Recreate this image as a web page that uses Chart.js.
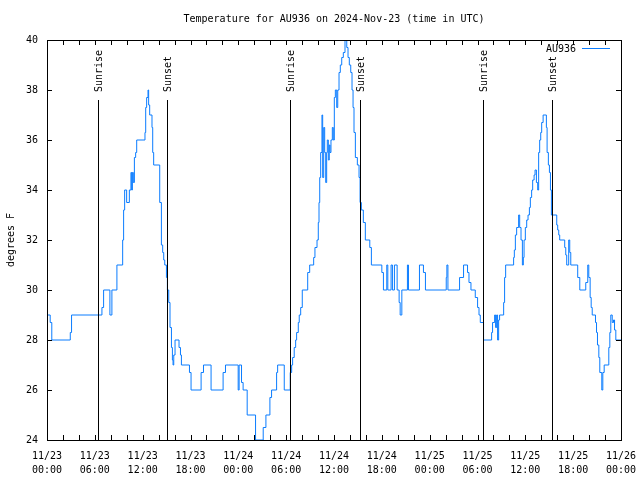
<!DOCTYPE html>
<html>
<head>
<meta charset="utf-8">
<script src="https://cdn.jsdelivr.net/npm/chart.js@4/dist/chart.umd.min.js"></script>
<style>
  html, body { margin: 0; padding: 0; background: #fff; }
  #wrap { width: 640px; height: 480px; }
</style>
</head>
<body>
<div id="wrap"><canvas id="chart" width="640" height="480"></canvas></div>
<script>
// hours since 2024-11-23 00:00 UTC where the reading changes, and the reading (deg F)
const hours = [
  0, 0.40, 0.60, 2.92, 3.08, 6.89, 7.10, 7.89, 8.14, 8.77,
  9.49, 9.61, 9.74, 9.99, 10.33, 10.53, 10.62, 10.71, 10.83, 10.96,
  11.12, 11.25, 12.29, 12.38, 12.50, 12.67, 12.75, 12.88, 13.17, 13.26,
  13.38, 14.14, 14.35, 14.51, 14.64, 14.77, 14.98, 15.10, 15.27, 15.43,
  15.61, 15.73, 15.81, 15.90, 16.06, 16.56, 16.74, 16.86, 17.87, 18.07,
  19.33, 19.63, 20.58, 22.09, 22.39, 23.98, 24.10, 24.40, 24.60, 25.11,
  26.16, 27.12, 27.46, 27.96, 28.17, 28.80, 28.93, 29.76, 30.51, 30.69,
  30.81, 31.01, 31.19, 31.31, 31.52, 31.64, 31.82, 32.02, 32.70, 32.95,
  33.45, 33.61, 33.87, 34.03, 34.12, 34.21, 34.33, 34.49, 34.58, 34.71,
  34.83, 34.96, 35.08, 35.16, 35.29, 35.41, 35.50, 35.62, 35.79, 35.91,
  36.04, 36.17, 36.34, 36.47, 36.63, 36.79, 36.97, 37.17, 37.38, 37.60,
  37.76, 37.92, 38.10, 38.26, 38.39, 38.51, 38.68, 38.93, 39.14, 39.27,
  39.43, 39.68, 39.93, 40.49, 40.69, 42.00, 42.20, 42.62, 42.75, 43.16,
  43.33, 43.58, 43.92, 44.17, 44.30, 44.51, 45.21, 45.34, 46.72, 47.22,
  47.47, 50.08, 50.16, 50.29, 51.75, 52.25, 52.75, 52.93, 53.18, 53.72,
  54.01, 54.19, 54.35, 54.76, 55.77, 55.89, 56.15, 56.27, 56.40, 56.52,
  56.65, 56.77, 57.28, 57.40, 57.53, 58.53, 58.62, 58.75, 58.91, 59.16,
  59.29, 59.46, 59.63, 59.75, 59.84, 60.00, 60.17, 60.34, 60.51, 60.63,
  60.79, 60.92, 61.10, 61.22, 61.39, 61.55, 61.67, 61.80, 61.93, 62.05,
  62.23, 62.64, 62.73, 62.89, 63.02, 63.15, 63.27, 63.94, 64.06, 64.19,
  64.31, 64.94, 65.07, 65.19, 65.44, 65.57, 65.70, 66.57, 66.83, 67.58,
  67.83, 67.96, 68.13, 68.26, 68.39, 68.80, 68.93, 69.05, 69.22, 69.34,
  69.59, 69.72, 69.89, 70.47, 70.60, 70.72, 70.90, 71.06, 71.19, 71.35,
  72
];
const temps = [
  29, 28.7, 28, 28.3, 29, 29.3, 30, 29, 30, 31,
  32, 33.2, 34, 33.5, 34, 34.7, 34, 34.7, 34.3, 35.3,
  35.5, 36, 36.3, 37.3, 37.7, 38, 37.4, 37, 36.5, 35.5,
  35, 33.5, 31.8, 31.5, 31.2, 31, 30.5, 30, 29.5, 28.5,
  27.7, 27.2, 27, 27.4, 28, 27.7, 27.4, 27, 26.7, 26,
  26.7, 27, 26, 26.7, 27, 26, 27, 26.3, 26, 25,
  24, 24.5, 25, 25.7, 26, 26.7, 27, 26, 26.7, 27,
  27.3, 27.7, 28, 28.3, 28.7, 29, 29.3, 30, 30.7, 31,
  31.3, 31.7, 32, 32.7, 33.5, 34.5, 35.5, 37, 34.5, 36.5,
  35.5, 34.3, 35.5, 36, 35.2, 35.8, 35.5, 36, 36.5, 36,
  37.7, 38, 37.3, 38, 38.7, 39, 39.3, 39.5, 40, 39.7,
  39.3, 39, 38.7, 38, 37.3, 36.3, 35.3, 35, 34.5, 33.5,
  33.2, 32.7, 32, 31.7, 31, 30.7, 30, 31, 30, 31,
  30, 31, 30, 29.5, 29, 30, 31, 30, 31, 30.7,
  30, 30.5, 31, 30, 30.5, 31, 30.7, 30.3, 30, 29.7,
  29.3, 29, 28.7, 28, 28.3, 28.7, 29, 28.5, 29, 28,
  28.8, 29, 29.5, 30.5, 31, 31.3, 31.6, 32.2, 32.5, 33,
  32.5, 32, 31, 31.3, 32, 32.5, 32.8, 33, 33.3, 33.7,
  34, 34.4, 34.6, 34.8, 34.3, 34, 35.5, 36, 36.3, 36.7,
  37, 36.5, 35.5, 35, 34.7, 34, 33, 32.6, 32.4, 32.2,
  32, 31.7, 31.4, 31, 32, 31.5, 31, 30.5, 30, 30.3,
  31, 30.5, 29.7, 29.3, 29, 28.7, 28.3, 27.8, 27.3, 26.7,
  26, 26.7, 27, 27.7, 28.3, 29, 28.7, 28.8, 28.4, 28,
  28
];

const sunrise = [6.37, 30.50, 54.63];
const sunset = [15.10, 39.30, 63.30];

const tickDates = ["11/23", "11/23", "11/23", "11/23", "11/24", "11/24", "11/24",
                   "11/24", "11/25", "11/25", "11/25", "11/25", "11/26"];
const tickTimes = ["00:00", "06:00", "12:00", "18:00", "00:00", "06:00", "12:00",
                   "18:00", "00:00", "06:00", "12:00", "18:00", "00:00"];

const FONT = "10px 'DejaVu Sans Mono', monospace";
const LINE_COLOR = "#0a7cff";

const extras = {
  id: "gnuplotBits",
  afterDraw(chart) {
    const { ctx, chartArea: a, scales: { x, y } } = chart;
    ctx.save();
    ctx.strokeStyle = "#000";
    ctx.lineWidth = 1;
    ctx.fillStyle = "#000";
    ctx.font = FONT;

    // frame
    ctx.strokeRect(Math.round(a.left) + 0.5, Math.round(a.top) + 0.5,
                   Math.round(a.right - a.left), Math.round(a.bottom - a.top));

    // inward ticks, mirrored
    ctx.beginPath();
    for (let h = 0; h <= 72; h += 2) {
      const px = Math.round(x.getPixelForValue(h)) + 0.5;
      ctx.moveTo(px, a.bottom); ctx.lineTo(px, a.bottom - 5);
      ctx.moveTo(px, a.top); ctx.lineTo(px, a.top + 5);
    }
    for (let v = 24; v <= 40; v += 2) {
      const py = Math.round(y.getPixelForValue(v)) + 0.5;
      ctx.moveTo(a.left, py); ctx.lineTo(a.left + 5, py);
      ctx.moveTo(a.right, py); ctx.lineTo(a.right - 5, py);
    }
    ctx.stroke();

    // sunrise / sunset markers
    const marks = sunrise.map(h => [h, "Sunrise"]).concat(sunset.map(h => [h, "Sunset"]));
    marks.forEach(([h, label]) => {
      const px = Math.round(x.getPixelForValue(h)) + 0.5;
      ctx.beginPath();
      ctx.moveTo(px, 100);
      ctx.lineTo(px, a.bottom);
      ctx.stroke();
      ctx.save();
      ctx.translate(px + 1, 92);
      ctx.rotate(-Math.PI / 2);
      ctx.textAlign = "left";
      ctx.textBaseline = "middle";
      ctx.fillText(label, 0, 0);
      ctx.restore();
    });

    // title
    ctx.textAlign = "center";
    ctx.textBaseline = "middle";
    ctx.fillText("Temperature for AU936 on 2024-Nov-23 (time in UTC)", (a.left + a.right) / 2, 19);

    // y axis label
    ctx.save();
    ctx.translate(11, 240);
    ctx.rotate(-Math.PI / 2);
    ctx.fillText("degrees F", 0, 0);
    ctx.restore();

    // key
    ctx.textAlign = "right";
    ctx.fillText("AU936", 576, 49);
    ctx.strokeStyle = LINE_COLOR;
    ctx.beginPath();
    ctx.moveTo(582, 48.5);
    ctx.lineTo(610, 48.5);
    ctx.stroke();

    ctx.restore();
  }
};

new Chart(document.getElementById("chart"), {
  type: "line",
  data: {
    datasets: [{
      label: "AU936",
      data: hours.map((h, i) => ({ x: h, y: temps[i] })),
      stepped: "before",
      borderColor: LINE_COLOR,
      borderWidth: 1,
      pointRadius: 0,
      fill: false
    }]
  },
  options: {
    responsive: false,
    animation: false,
    layout: { padding: { top: 40, right: 19, left: 0, bottom: 0 } },
    plugins: { legend: { display: false }, title: { display: false }, tooltip: { enabled: false } },
    scales: {
      x: {
        type: "linear",
        min: 0,
        max: 72,
        border: { display: false },
        grid: { display: false, drawTicks: false },
        afterFit: s => { s.height = 40; s.paddingLeft = 0; s.paddingRight = 0; },
        afterBuildTicks: s => { s.ticks = tickTimes.map((_, i) => ({ value: i * 6 })); },
        ticks: {
          autoSkip: false,
          maxRotation: 0,
          padding: 9,
          color: "#000",
          font: { family: "'DejaVu Sans Mono', monospace", size: 10, lineHeight: 1.4 },
          callback: (v, i) => [tickDates[i], tickTimes[i]]
        }
      },
      y: {
        min: 24,
        max: 40,
        border: { display: false },
        grid: { display: false, drawTicks: false },
        afterFit: s => { s.width = 47; },
        ticks: {
          stepSize: 2,
          padding: 9,
          color: "#000",
          font: { family: "'DejaVu Sans Mono', monospace", size: 10 }
        }
      }
    }
  },
  plugins: [extras]
});
</script>
</body>
</html>
